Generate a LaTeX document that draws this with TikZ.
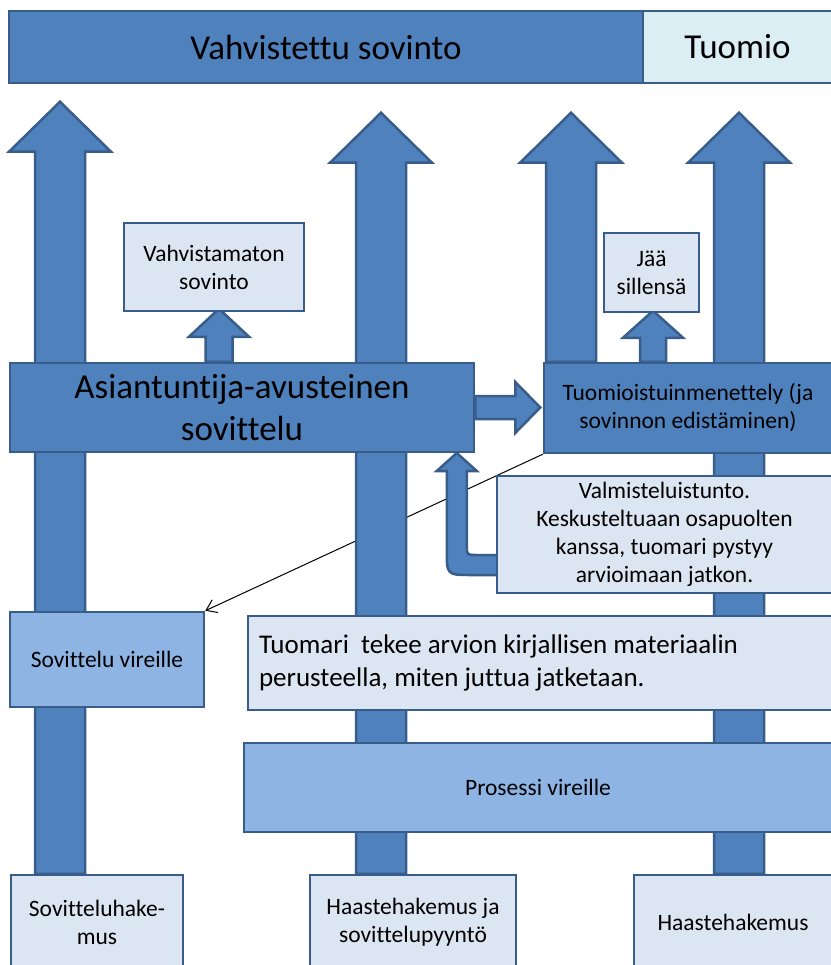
\documentclass[tikz,border=0pt]{standalone}
\usepackage{fontspec}
\setmainfont[Ligatures=NoCommon]{Carlito}
\usetikzlibrary{calc,arrows.meta,backgrounds}
\definecolor{boxblue}{HTML}{4F81BD}
\definecolor{boxedge}{HTML}{385D8A}
\definecolor{boxpale}{HTML}{DCE6F2}
\definecolor{boxcyan}{HTML}{DBEEF4}
\definecolor{boxmid}{HTML}{8EB4E3}
\tikzset{
    box/.style={draw=boxedge, line width=2.5pt, rectangle, inner sep=0pt, align=center},
    bigtext/.style={font=\fontsize{35}{42}\selectfont},
    smalltext/.style={font=\fontsize{23.5}{28}\selectfont},
    blockarr/.style={fill=boxblue, draw=boxedge, line width=2.5pt, line join=miter}
}

\begin{document}
\begin{tikzpicture}[x=1pt,y=-1pt]
    \useasboundingbox (0,0) rectangle (830,965);

    % results
    \node[box, fill=boxblue, bigtext, minimum width=634pt, minimum height=72pt] (vahv) at (326,47) {Vahvistettu sovinto};
    \node[box, fill=boxcyan, bigtext, minimum width=189pt, minimum height=72pt] (tuomio) at (737.5,47) {Tuomio};
    \node[box, fill=boxpale, smalltext, minimum width=180pt, minimum height=88pt] (vahvistamaton) at (214,267) {Vahvistamaton\\sovinto};
    \node[box, fill=boxpale, smalltext, minimum width=95pt, minimum height=79pt] (jaa) at (651.5,272.5) {Jää\\sillensä};

    % procedures
    \node[box, fill=boxblue, bigtext, minimum width=464pt, minimum height=89pt] (asiantuntija) at (242,407.5) {Asiantuntija-avusteinen\\sovittelu};
    \node[box, fill=boxblue, smalltext, minimum width=288pt, minimum height=90pt] (tuomioist) at (688,408) {Tuomioistuinmenettely (ja\\sovinnon edistäminen)};
    \node[box, fill=boxpale, smalltext, minimum width=335pt, minimum height=117pt] (valm) at (664.5,534.5) {Valmisteluistunto.\\Keskusteltuaan osapuolten\\kanssa, tuomari pystyy\\arvioimaan jatkon.};
    \node[box, fill=boxmid, smalltext, minimum width=194pt, minimum height=95pt] (sovvir) at (107,659.5) {Sovittelu vireille};
    \node[box, fill=boxpale, font=\fontsize{27}{33}\selectfont, align=flush left, text width=562pt, inner xsep=11pt, minimum height=94pt] (tuomari) at (540,663) {Tuomari\ \ tekee arvion kirjallisen materiaalin\\perusteella, miten juttua jatketaan.};
    \node[box, fill=boxmid, smalltext, minimum width=588pt, minimum height=89pt] (prosessi) at (538,787.5) {Prosessi vireille};

    % applications
    \node[box, fill=boxpale, smalltext, minimum width=172pt, minimum height=95pt] (sovhak) at (97,922.5) {Sovitteluhake-\\mus};
    \node[box, fill=boxpale, smalltext, minimum width=206pt, minimum height=95pt] (haaspyy) at (413,922.5) {Haastehakemus ja\\sovittelupyyntö};
    \node[box, fill=boxpale, smalltext, minimum width=198pt, minimum height=95pt] (haas) at (733,922.5) {Haastehakemus};

    \begin{scope}[on background layer]
        \draw[line width=1pt, -{Straight Barb[length=10pt,width=14pt]}] (tuomioist.south west) -- (sovvir.north east);

        \draw[blockarr] ($(sovhak.north)+(-62,0)$) -- ++(0,-722) -- ++(-26,0) -- ++(51,-50) -- ++(51,50) -- ++(-26,0) -- ++(0,722) -- cycle;
        \draw[blockarr] ($(haaspyy.north)+(-57,0)$) -- ++(0,-711) -- ++(-26,0) -- ++(51,-50) -- ++(51,50) -- ++(-26,0) -- ++(0,711) -- cycle;
        \draw[blockarr] ($(tuomioist.north)+(-142,0)$) -- ++(0,-199) -- ++(-26,0) -- ++(51,-50) -- ++(51,50) -- ++(-26,0) -- ++(0,199) -- cycle;
        \draw[blockarr] ($(haas.north)+(-19,0)$) -- ++(0,-711) -- ++(-26,0) -- ++(51,-50) -- ++(51,50) -- ++(-26,0) -- ++(0,711) -- cycle;

        \draw[blockarr] ($(asiantuntija.north)+(-36.5,0)$) -- ++(0,-25) -- ++(-16.5,0) -- ++(30,-28) -- ++(30,28) -- ++(-16.5,0) -- ++(0,25) -- cycle;
        \draw[blockarr] ($(tuomioist.north)+(-48,0)$) -- ++(0,-24) -- ++(-17,0) -- ++(30,-27) -- ++(30,27) -- ++(-17,0) -- ++(0,24) -- cycle;
        \draw[blockarr] ($(asiantuntija.east)+(0,-11.5)$) -- ++(40,0) -- ++(0,-14) -- ++(25,25.5) -- ++(-25,25.5) -- ++(0,-14) -- ++(-40,0) -- cycle;

        \begin{scope}[shift={(valm.west)}]
            \draw[blockarr] (3,40.5) -- (-24,40.5) .. controls (-49,40.5) .. (-49,15.5) -- (-49,-63.5) -- (-59,-63.5) -- (-39,-81.5) -- (-19,-63.5) -- (-29,-63.5) -- (-29,10.5) .. controls (-29,20.5) .. (-19,20.5) -- (3,20.5) -- cycle;
        \end{scope}
    \end{scope}

\end{tikzpicture}
\end{document}
